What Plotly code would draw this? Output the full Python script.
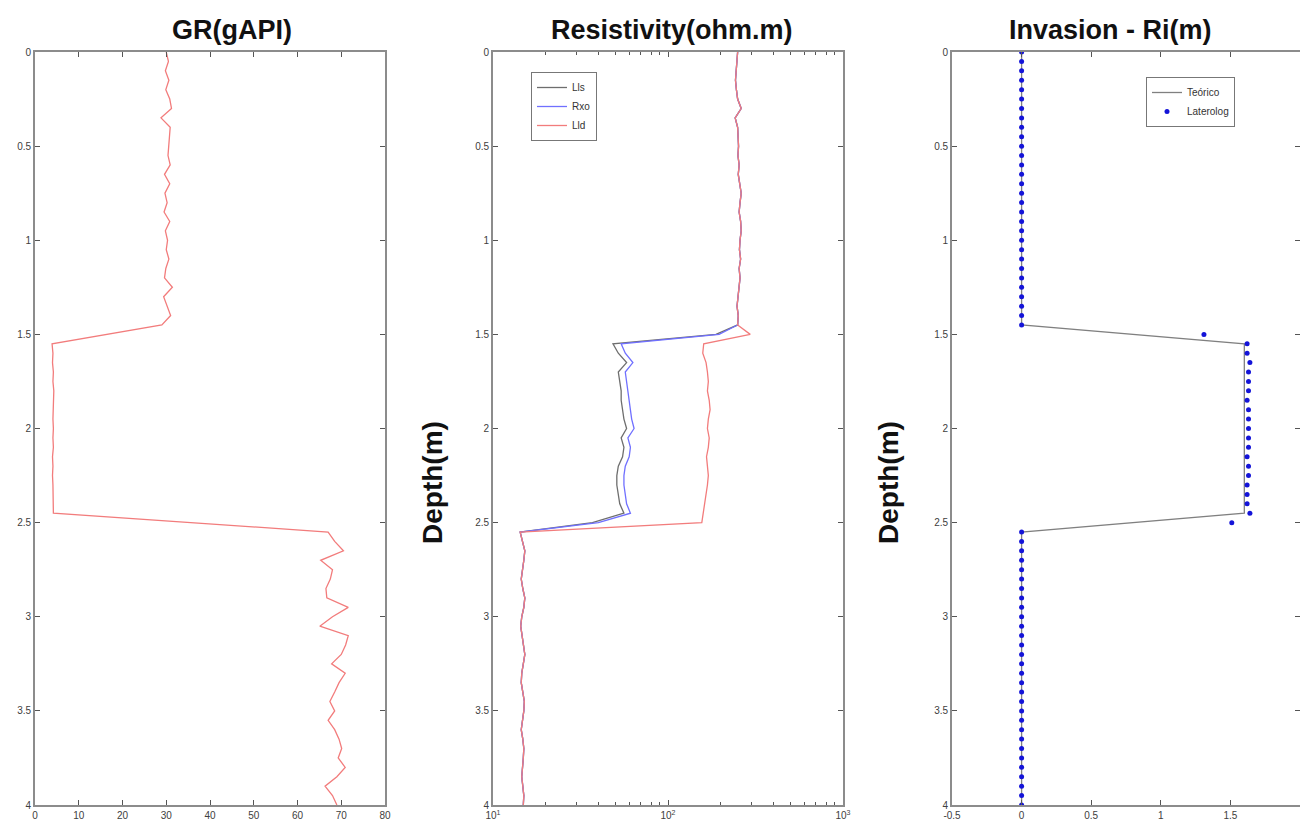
import numpy as np
import plotly.graph_objects as go

# ---------------- data ----------------
depth = np.round(np.arange(0, 4.0001, 0.05), 2)

gr = [30.0, 30.5, 29.8, 30.6, 29.9, 30.8, 31.2, 28.8, 30.9, 30.7,
      30.5, 30.4, 30.9, 29.6, 30.8, 29.7, 30.2, 29.5, 30.8, 29.8,
      30.3, 30.0, 30.6, 29.9, 29.6, 31.4, 29.4, 30.2, 31.0, 29.0,
      16.5,
      3.9, 4.1, 4.0, 4.2, 4.1, 4.3, 4.2, 4.2, 4.1, 4.2,
      4.1, 4.2, 4.0, 4.1, 4.0, 4.1, 4.1, 4.2, 4.2,
      35.6,
      67.0, 68.5, 70.5, 65.3, 68.0, 67.5, 66.5, 66.7, 71.6, 68.0,
      65.1, 71.6, 71.0, 70.0, 67.8, 70.9, 69.5, 68.5, 67.4, 68.5,
      67.0, 68.5, 69.5, 70.1, 69.3, 70.9, 69.0, 66.3, 68.0, 69.0]

lld_top = [250, 248, 245, 243, 246, 250, 262, 242, 250, 252,
           253, 251, 255, 252, 258, 262, 258, 255, 260, 262,
           258, 256, 260, 255, 258, 254, 250, 248, 252, 250]
lld_bot = [14.3, 14.8, 15.2, 15.0, 14.7, 14.5, 14.8, 15.2, 15.0, 14.6,
           14.4, 14.7, 15.0, 15.2, 14.9, 14.6, 14.5, 14.8, 15.1, 15.0,
           14.7, 14.5, 14.8, 15.0, 14.9, 14.7, 14.6, 14.8, 15.0, 14.9]

lld = lld_top + [295] + [160, 158, 165, 168, 170, 168, 172, 174, 170, 168,
                         172, 170, 166, 168, 170, 168, 165, 162, 158] + [156] + lld_bot
lls = lld_top + [188] + [48.5, 52, 58, 52, 53, 54, 54, 55, 56, 58,
                         54, 56, 55, 52, 51, 51, 52, 53, 56] + [37] + lld_bot
rxo = lld_top + [196] + [54, 57, 63, 57, 58, 59, 60, 61, 62, 64,
                         59, 61, 60, 57, 56, 56, 57, 58, 61] + [40] + lld_bot

teo_depth = [0, 1.45, 1.55, 2.45, 2.55, 4.0]
teo_ri = [0, 0, 1.6, 1.6, 0, 0]

lat_ri = [0.0] * 30 + [1.31] + [1.62, 1.62, 1.64, 1.63, 1.63, 1.63, 1.62, 1.63, 1.63, 1.63,
                                1.63, 1.63, 1.62, 1.63, 1.63, 1.62, 1.62, 1.62, 1.64] + [1.51] + [0.0] * 30

titles = ["GR(gAPI)", "Resistivity(ohm.m)", "Invasion - Ri(m)"]
ytick_vals = [0, 0.5, 1, 1.5, 2, 2.5, 3, 3.5, 4]
ytick_text = ["0", "0.5", "1", "1.5", "2", "2.5", "3", "3.5", "4"]
gr_ticks = [0, 10, 20, 30, 40, 50, 60, 70, 80]
res_ticks = [10, 100, 1000]
res_ticktext = ["10<sup>1</sup>", "10<sup>2</sup>", "10<sup>3</sup>"]
res_minor = [20, 30, 40, 50, 60, 70, 80, 90, 200, 300, 400, 500, 600, 700, 800, 900]
ri_ticks = [-0.5, 0, 0.5, 1, 1.5, 2]
ri_ticktext = ["-0.5", "0", "0.5", "1", "1.5", "2"]

# ---------------- figure ----------------
RED = "#f27c7c"
GRAY = "#6e6e6e"
BLUE = "#7070ff"
DOT = "#1414d8"

fig = go.Figure()
fig.add_trace(go.Scatter(x=gr, y=depth, mode="lines", line=dict(color=RED, width=1.3),
                         xaxis="x", yaxis="y", showlegend=False))
fig.add_trace(go.Scatter(x=lls, y=depth, mode="lines", name="Lls", line=dict(color=GRAY, width=1.3),
                         xaxis="x2", yaxis="y2", legend="legend"))
fig.add_trace(go.Scatter(x=rxo, y=depth, mode="lines", name="Rxo", line=dict(color=BLUE, width=1.3),
                         xaxis="x2", yaxis="y2", legend="legend"))
fig.add_trace(go.Scatter(x=lld, y=depth, mode="lines", name="Lld", line=dict(color=RED, width=1.3),
                         xaxis="x2", yaxis="y2", legend="legend"))
fig.add_trace(go.Scatter(x=teo_ri, y=teo_depth, mode="lines", name="Teórico", line=dict(color="#808080", width=1.3),
                         xaxis="x3", yaxis="y3", legend="legend2"))
fig.add_trace(go.Scatter(x=lat_ri, y=depth, mode="markers", name="Laterolog",
                         marker=dict(color=DOT, size=5),
                         xaxis="x3", yaxis="y3", legend="legend2"))

axcol = "#8c8c8c"
tickfont = dict(family="Liberation Sans, Arial, sans-serif", size=10, color="#404040")
common = dict(showline=True, linecolor=axcol, linewidth=1.8, mirror="ticks", ticks="inside",
              ticklen=5, tickcolor="#555555", tickwidth=1, showgrid=False, zeroline=False,
              tickfont=tickfont)

L, R, T, B = 35, 0, 52, 22
W, H = 1300, 827
pw = W - L - R
ph = H - T - B
def px2x(p):
    return (p - L) / pw
def py2y(p):
    return 1 - (p - T) / ph

doms = [[px2x(35), px2x(385)], [px2x(493), px2x(843)], [px2x(952), 1.0]]

layout = dict(
    width=W, height=H, margin=dict(l=L, r=R, t=T, b=B, autoexpand=False),
    paper_bgcolor="white", plot_bgcolor="white",
    font=dict(family="Liberation Sans, Arial, sans-serif"),
    xaxis=dict(domain=doms[0], anchor="y", range=[0, 80], tickvals=gr_ticks, **common),
    xaxis2=dict(domain=doms[1], anchor="y2", type="log", range=[1, 3], tickvals=res_ticks,
                ticktext=res_ticktext,
                minor=dict(tickvals=res_minor, ticks="inside", ticklen=3, tickcolor="#555555"),
                **common),
    xaxis3=dict(domain=doms[2], anchor="y3", range=[-0.5, 2], tickvals=ri_ticks, ticktext=ri_ticktext,
                **common),
    yaxis=dict(domain=[0, 1], anchor="x", range=[4, 0], tickvals=ytick_vals, ticktext=ytick_text, **common),
    yaxis2=dict(domain=[0, 1], anchor="x2", range=[4, 0], tickvals=ytick_vals, ticktext=ytick_text, **common),
    yaxis3=dict(domain=[0, 1], anchor="x3", range=[4, 0], tickvals=ytick_vals, ticktext=ytick_text, **common),
    legend=dict(x=px2x(531), y=py2y(72), xanchor="left", yanchor="top", bgcolor="white",
                bordercolor="#777777", borderwidth=1, font=dict(size=10, color="#333333"),
                tracegroupgap=0),
    legend2=dict(x=px2x(1146), y=py2y(77), xanchor="left", yanchor="top", bgcolor="white",
                 bordercolor="#777777", borderwidth=1, font=dict(size=10, color="#333333"),
                 tracegroupgap=0),
)
fig.update_layout(**layout)

title_x = [232, 672, 1110]
for t, xc in zip(titles, title_x):
    fig.add_annotation(text="<b>%s</b>" % t, x=px2x(xc), y=py2y(30), xref="paper", yref="paper",
                       xanchor="center", yanchor="middle", showarrow=False,
                       font=dict(size=27, color="#111111"))
for xc in [432, 888]:
    fig.add_annotation(text="<b>Depth(m)</b>", x=px2x(xc), y=py2y(483), xref="paper", yref="paper",
                       xanchor="center", yanchor="middle", showarrow=False, textangle=-90,
                       font=dict(size=28, color="#111111"))

fig.write_html("out.html", config={"displayModeBar": False},
               post_script="document.body.style.margin='0';document.body.style.overflow='hidden';")
